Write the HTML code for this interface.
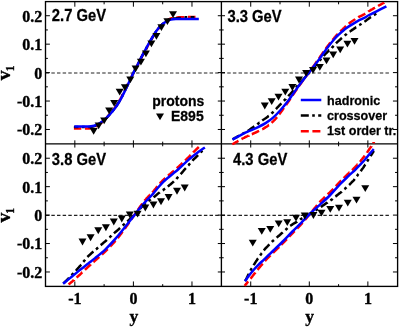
<!DOCTYPE html>
<html><head><meta charset="utf-8"><title>v1 vs y</title>
<style>html,body{margin:0;padding:0;background:#fff;}svg{display:block;will-change:transform;}text{font-family:"Liberation Sans",sans-serif;font-weight:bold;fill:#000;stroke:#000;stroke-width:0.25px;}.s{font-family:"Liberation Serif",serif;stroke:#000;stroke-width:0.35px;}</style></head><body>
<svg width="399" height="327" viewBox="0 0 399 327">
<rect width="399" height="327" fill="#fff"/>
<defs>
<clipPath id="c1"><rect x="45.5" y="1.6" width="175.9" height="142.3"/></clipPath>
<clipPath id="c2"><rect x="221.4" y="1.6" width="176.2" height="143.7"/></clipPath>
<clipPath id="c3"><rect x="45.5" y="143.9" width="175.9" height="142.5"/></clipPath>
<clipPath id="c4"><rect x="221.4" y="142.0" width="176.2" height="144.4"/></clipPath>
<path id="t" d="M-4 -2.9H4L0 3.9Z" fill="#000"/>
</defs>
<g stroke="#222" stroke-width="1.2" stroke-dasharray="3.45 2.2" fill="none">
<path d="M45.7 73.0H221.4"/>
<path d="M221.6 73.0H389.4"/>
<path d="M45.7 215.3H221.4"/>
<path d="M221.6 215.3H389.4"/>
</g>
<g stroke="#000" stroke-width="1.35" fill="none">
<rect x="45.5" y="1.6" width="352.1" height="284.8"/>
<path d="M221.4 1.6V286.4M45.5 143.9H397.6"/>
<path stroke-width="1.0" d="M74.83 1.60v5.10M74.83 140.35v7.20M74.83 286.45v-5.00M104.12 1.60v2.70M104.12 141.65v4.60M104.12 286.45v-2.30M133.40 1.60v5.10M133.40 140.35v7.20M133.40 286.45v-5.00M162.69 1.60v2.70M162.69 141.65v4.60M162.69 286.45v-2.30M191.97 1.60v5.10M191.97 140.35v7.20M191.97 286.45v-5.00M250.73 1.60v5.10M250.73 140.35v7.20M250.73 286.45v-5.00M280.01 1.60v2.70M280.01 141.65v4.60M280.01 286.45v-2.30M309.30 1.60v5.10M309.30 140.35v7.20M309.30 286.45v-5.00M338.59 1.60v2.70M338.59 141.65v4.60M338.59 286.45v-2.30M367.87 1.60v5.10M367.87 140.35v7.20M367.87 286.45v-5.00M45.50 129.48h4.40M217.80 129.48h7.20M397.55 129.48h-4.60M45.50 115.26h2.40M219.10 115.26h4.60M397.55 115.26h-2.50M45.50 101.04h4.40M217.80 101.04h7.20M397.55 101.04h-4.60M45.50 86.82h2.40M219.10 86.82h4.60M397.55 86.82h-2.50M45.50 72.60h4.40M217.80 72.60h7.20M397.55 72.60h-4.60M45.50 58.38h2.40M219.10 58.38h4.60M397.55 58.38h-2.50M45.50 44.16h4.40M217.80 44.16h7.20M397.55 44.16h-4.60M45.50 29.94h2.40M219.10 29.94h4.60M397.55 29.94h-2.50M45.50 15.72h4.40M217.80 15.72h7.20M397.55 15.72h-4.60M45.50 271.98h4.40M217.80 271.98h7.20M397.55 271.98h-4.60M45.50 257.76h2.40M219.10 257.76h4.60M397.55 257.76h-2.50M45.50 243.54h4.40M217.80 243.54h7.20M397.55 243.54h-4.60M45.50 229.32h2.40M219.10 229.32h4.60M397.55 229.32h-2.50M45.50 215.10h4.40M217.80 215.10h7.20M397.55 215.10h-4.60M45.50 200.88h2.40M219.10 200.88h4.60M397.55 200.88h-2.50M45.50 186.66h4.40M217.80 186.66h7.20M397.55 186.66h-4.60M45.50 172.44h2.40M219.10 172.44h4.60M397.55 172.44h-2.50M45.50 158.22h4.40M217.80 158.22h7.20M397.55 158.22h-4.60"/>
</g>
<g clip-path="url(#c1)" fill="none" stroke-width="2.5">
<path d="M73.9 128.5L74.1 128.5L74.4 128.5L74.8 128.5L75.2 128.5L75.6 128.5L76.1 128.5L76.5 128.5L76.9 128.5L77.2 128.5L77.6 128.5L78.0 128.5L78.3 128.5L78.7 128.5L79.1 128.5L79.5 128.5L79.8 128.5L80.2 128.5L80.6 128.5L80.9 128.5L81.3 128.5L81.3 128.5M84.9 128.5L85.1 128.5L85.5 128.5L85.9 128.5L86.3 128.5L86.6 128.5L87.0 128.5L87.4 128.5L87.7 128.5L88.1 128.5L88.5 128.5L88.9 128.5L89.2 128.4L89.6 128.4L90.0 128.3L90.3 128.3L90.7 128.2L91.1 128.2L91.4 128.1L91.8 128.0L92.2 127.9L92.6 127.8L92.8 127.7M96.1 126.4L96.4 126.3L96.8 126.1L97.1 125.9L97.5 125.7L97.9 125.4L98.2 125.2L98.6 124.9L99.0 124.7L99.4 124.4L99.7 124.1L100.1 123.8L100.5 123.5L100.8 123.2L101.2 122.9L101.6 122.6L102.0 122.3L102.3 122.0L102.6 121.7M105.2 119.3L105.4 119.0L105.8 118.6L106.2 118.2L106.5 117.8L106.9 117.4L107.3 116.9L107.6 116.5L108.0 116.1L108.4 115.6L108.7 115.2L109.1 114.7L109.5 114.3L109.9 113.8L110.2 113.4L110.4 113.2M112.7 110.5L113.0 110.2L113.3 109.7L113.7 109.3L114.1 108.8L114.4 108.3L114.8 107.9L115.2 107.4L115.5 106.8L115.9 106.3L116.3 105.8L116.7 105.2L117.0 104.7L117.4 104.1L117.5 104.0M119.3 101.0L119.6 100.4L120.0 99.8L120.4 99.1L120.7 98.4L121.1 97.8L121.5 97.1L121.8 96.4L122.2 95.6L122.6 94.9L123.0 94.2L123.1 93.9M124.7 90.8L124.9 90.2L125.3 89.5L125.7 88.7L126.0 87.9L126.4 87.2L126.8 86.4L127.2 85.7L127.5 84.9L127.9 84.2L128.2 83.6M129.7 80.4L130.0 79.8L130.4 79.1L130.7 78.3L131.1 77.6L131.5 76.8L131.9 76.1L132.2 75.3L132.6 74.6L133.0 73.9L133.3 73.2M134.9 70.0L135.3 69.3L135.7 68.6L136.1 67.9L136.4 67.2L136.8 66.5L137.2 65.8L137.5 65.1L137.9 64.3L138.3 63.6L138.7 62.9L138.7 62.9M140.3 59.8L140.6 59.0L141.0 58.3L141.4 57.6L141.7 56.9L142.1 56.2L142.5 55.5L142.9 54.8L143.2 54.1L143.6 53.5L144.0 52.8L144.1 52.7M145.8 49.6L146.1 49.1L146.4 48.4L146.8 47.7L147.2 47.0L147.6 46.3L147.9 45.7L148.3 45.0L148.7 44.3L149.0 43.6L149.4 43.0L149.6 42.5M151.4 39.5L151.6 39.0L152.0 38.4L152.4 37.7L152.7 37.1L153.1 36.5L153.5 35.9L153.9 35.2L154.2 34.6L154.6 34.1L155.0 33.5L155.3 32.9L155.5 32.6M157.6 29.7L157.8 29.4L158.2 28.9L158.6 28.5L158.9 28.0L159.3 27.6L159.7 27.2L160.0 26.8L160.4 26.4L160.8 26.0L161.1 25.6L161.5 25.2L161.9 24.8L162.3 24.4L162.6 24.1L163.0 23.8M165.6 21.5L166.0 21.2L166.3 20.9L166.7 20.7L167.1 20.4L167.4 20.2L167.8 19.9L168.2 19.7L168.6 19.5L168.9 19.3L169.3 19.1L169.7 18.9L170.0 18.8L170.4 18.6L170.8 18.5L171.2 18.4L171.5 18.3L171.9 18.2L172.3 18.1L172.6 18.0L172.8 18.0M176.3 17.5L176.6 17.5L177.0 17.4L177.3 17.4L177.7 17.4L178.1 17.3L178.4 17.3L178.8 17.3L179.2 17.3L179.6 17.3L179.9 17.3L180.3 17.3L180.7 17.3L181.0 17.2L181.4 17.2L181.8 17.2L182.2 17.2L182.5 17.2L182.9 17.2L183.3 17.2L183.6 17.2L184.0 17.2L184.3 17.2M187.9 17.1L188.2 17.1L188.6 17.1L189.0 17.1L189.3 17.1L189.7 17.1L190.1 17.1L190.4 17.1L190.8 17.1L191.2 17.1L191.5 17.1L191.9 17.1L192.3 17.1L192.7 17.1L193.1 17.1L193.5 17.1L193.9 17.1L194.3 17.1L194.7 17.1L195.1 17.1L195.4 17.1L195.5 17.1" stroke="#f00"/>
<path d="M73.9 127.0L74.1 127.0L74.4 127.0L74.8 127.0L75.2 127.0L75.6 127.0L76.1 127.0L76.5 127.0L76.9 127.0L77.3 127.0L77.7 127.0L78.0 127.0L78.4 127.0M81.9 127.0L82.2 127.0L82.6 127.0L82.9 127.0L83.3 127.0L83.7 127.0L84.1 127.0L84.4 127.0L84.7 127.0M88.2 127.0L88.4 127.0L88.8 127.0L89.2 127.0L89.6 126.9L90.0 126.9L90.3 126.9L90.7 126.8L91.1 126.8L91.5 126.7L91.8 126.7L92.2 126.6L92.6 126.5L93.0 126.4L93.3 126.4L93.7 126.3L94.1 126.2L94.5 126.1L94.8 126.0L95.2 125.8L95.6 125.7L96.0 125.5L96.1 125.5M99.2 123.9L99.5 123.7L99.9 123.5L100.2 123.2L100.6 123.0L101.0 122.7L101.4 122.4L101.5 122.3M104.2 120.1L104.5 119.8L104.9 119.5L105.3 119.1L105.6 118.7L106.0 118.4L106.4 118.0L106.8 117.6L107.1 117.2L107.5 116.8L107.9 116.4L108.3 115.9L108.6 115.5L109.0 115.1L109.4 114.6L109.7 114.3M112.0 111.6L112.3 111.3L112.7 110.9L113.0 110.4L113.4 109.9L113.8 109.5L113.8 109.5M115.9 106.7L116.2 106.3L116.5 105.8L116.9 105.2L117.3 104.6L117.7 104.0L118.0 103.4L118.4 102.8L118.8 102.2L119.2 101.6L119.6 100.9L119.9 100.3L120.2 99.8M121.8 96.8L122.2 96.1L122.6 95.4L122.9 94.6L123.1 94.3M124.7 91.1L124.9 90.6L125.3 89.8L125.7 89.0L126.1 88.2L126.4 87.4L126.8 86.6L127.2 85.9L127.6 85.1L128.0 84.3L128.1 83.9M129.6 80.7L130.0 80.1L130.3 79.3L130.7 78.5L130.9 78.2M132.4 75.1L132.7 74.4L133.1 73.6L133.5 72.9L133.8 72.1L134.2 71.4L134.6 70.6L135.0 69.9L135.4 69.2L135.7 68.5L136.0 67.9M137.6 64.8L138.0 64.1L138.4 63.3L138.7 62.6L138.9 62.3M140.5 59.1L140.7 58.6L141.1 57.9L141.5 57.2L141.9 56.4L142.3 55.7L142.6 55.0L143.0 54.3L143.4 53.6L143.8 52.9L144.1 52.2L144.2 52.0M146.0 49.0L146.3 48.4L146.6 47.7L147.0 47.0L147.3 46.5M149.0 43.4L149.3 42.9L149.7 42.2L150.0 41.6L150.4 40.9L150.8 40.2L151.2 39.6L151.5 38.9L151.9 38.3L152.3 37.7L152.7 37.0L153.0 36.5M154.8 33.5L155.2 32.9L155.5 32.3L155.9 31.8L156.3 31.2L156.4 31.1M158.5 28.3L158.8 27.9L159.2 27.5L159.6 27.1L159.9 26.6L160.3 26.2L160.7 25.9L161.1 25.5L161.4 25.1L161.8 24.8L162.2 24.4L162.6 24.1L162.9 23.8L163.3 23.4L163.7 23.1L164.1 22.8L164.2 22.7M167.1 20.7L167.3 20.5L167.7 20.3L168.1 20.1L168.5 19.9L168.8 19.7L169.2 19.5L169.5 19.4M172.9 18.6L173.2 18.6L173.6 18.5L174.0 18.5L174.4 18.5L174.7 18.4L175.1 18.4L175.5 18.4L175.9 18.4L176.2 18.3L176.6 18.3L177.0 18.3L177.4 18.3L177.7 18.2L178.1 18.2L178.5 18.2L178.9 18.1L179.2 18.1L179.6 18.0L180.0 18.0L180.4 18.0L180.8 17.9L180.9 17.9M184.4 17.4L184.8 17.4L185.1 17.4L185.5 17.3L185.9 17.3L186.3 17.3L186.6 17.3L187.0 17.3L187.2 17.3M190.7 17.3L191.0 17.3L191.4 17.3L191.8 17.3L192.3 17.3L192.7 17.3L193.1 17.3L193.5 17.3L193.9 17.3L194.2 17.2L194.3 17.2" stroke="#000"/>
<path d="M74.30 126.50 C75.92 126.50 81.22 126.53 84.00 126.50 C86.78 126.47 88.87 126.58 91.00 126.30 C93.13 126.02 94.75 125.73 96.80 124.80 C98.85 123.87 101.22 122.33 103.30 120.70 C105.38 119.07 107.20 117.28 109.30 115.00 C111.40 112.72 113.97 109.70 115.90 107.00 C117.83 104.30 119.28 101.72 120.90 98.80 C122.52 95.88 124.12 92.55 125.60 89.50 C127.08 86.45 128.44 83.37 129.80 80.50 C131.16 77.63 132.38 75.05 133.75 72.30 C135.12 69.55 136.62 66.72 138.00 64.00 C139.38 61.28 140.67 58.55 142.00 56.00 C143.33 53.45 144.50 51.42 146.00 48.70 C147.50 45.98 149.33 42.57 151.00 39.70 C152.67 36.83 154.50 33.70 156.00 31.50 C157.50 29.30 158.75 27.85 160.00 26.50 C161.25 25.15 162.33 24.32 163.50 23.40 C164.67 22.48 165.75 21.67 167.00 21.00 C168.25 20.33 169.33 19.73 171.00 19.40 C172.67 19.07 174.67 19.07 177.00 19.00 C179.33 18.93 181.37 18.96 185.00 18.95 C188.63 18.94 196.50 18.95 198.80 18.95" stroke="#00f"/>
</g>
<g>
<use href="#t" x="93.65" y="130.90"/>
<use href="#t" x="98.65" y="125.40"/>
<use href="#t" x="104.15" y="120.40"/>
<use href="#t" x="109.15" y="110.40"/>
<use href="#t" x="114.15" y="102.90"/>
<use href="#t" x="119.65" y="91.65"/>
<use href="#t" x="124.90" y="87.15"/>
<use href="#t" x="130.30" y="79.40"/>
<use href="#t" x="135.60" y="68.40"/>
<use href="#t" x="140.90" y="61.65"/>
<use href="#t" x="145.90" y="53.40"/>
<use href="#t" x="151.40" y="43.40"/>
<use href="#t" x="156.40" y="35.90"/>
<use href="#t" x="161.40" y="27.15"/>
<use href="#t" x="167.40" y="21.20"/>
<use href="#t" x="173.00" y="14.10"/>
</g>
<g clip-path="url(#c2)" fill="none" stroke-width="2.5">
<path d="M232.3 144.3L232.5 144.2L232.8 144.0L233.2 143.8L233.6 143.6L234.0 143.3L234.5 143.1L234.9 142.8L235.3 142.6L235.7 142.4L236.0 142.2L236.4 142.0L236.8 141.8L237.1 141.6L237.5 141.4L237.9 141.2L238.3 140.9L238.5 140.8M241.5 139.1L241.9 138.9L242.2 138.7L242.6 138.5L243.0 138.3L243.3 138.2L243.7 138.0L244.1 137.8L244.5 137.6L244.8 137.4L245.2 137.2L245.6 137.0L246.0 136.9L246.3 136.7L246.7 136.5L247.1 136.3L247.4 136.2L247.8 136.0L248.2 135.8L248.6 135.7L248.6 135.6M251.8 134.2L252.2 134.1L252.5 133.9L252.9 133.7L253.3 133.6L253.6 133.4L254.0 133.2L254.4 133.1L254.8 132.9L255.1 132.8L255.5 132.6L255.9 132.4L256.3 132.2L256.6 132.1L257.0 131.9L257.4 131.7L257.7 131.5L258.1 131.4L258.5 131.2L258.9 131.0L259.1 130.9M262.2 129.3L262.5 129.2L262.8 129.0L263.2 128.8L263.6 128.6L263.9 128.4L264.3 128.1L264.7 127.9L265.1 127.7L265.4 127.4L265.8 127.2L266.2 127.0L266.6 126.7L266.9 126.5L267.3 126.2L267.7 126.0L268.0 125.7L268.4 125.4L268.8 125.1L268.9 125.1M271.6 122.8L271.9 122.5L272.3 122.2L272.6 121.8L273.0 121.5L273.4 121.1L273.7 120.7L274.1 120.3L274.5 120.0L274.9 119.6L275.2 119.2L275.6 118.8L276.0 118.3L276.4 117.9L276.7 117.5L277.1 117.1M279.2 114.3L279.6 113.9L280.0 113.4L280.3 112.9L280.7 112.4L281.1 111.9L281.4 111.4L281.8 110.9L282.2 110.4L282.6 109.9L282.9 109.3L283.3 108.8L283.7 108.3L284.0 107.9M286.0 105.1L286.3 104.6L286.7 104.1L287.0 103.6L287.4 103.0L287.8 102.5L288.1 101.9L288.5 101.4L288.9 100.9L289.3 100.3L289.6 99.8L290.0 99.2L290.4 98.6L290.5 98.5M292.4 95.6L292.7 95.1L293.1 94.6L293.5 94.0L293.9 93.5L294.2 93.0L294.6 92.4L295.0 91.9L295.3 91.3L295.7 90.8L296.1 90.2L296.5 89.7L296.8 89.2L296.9 89.0M298.9 86.2L299.2 85.8L299.6 85.2L299.9 84.7L300.3 84.2L300.7 83.7L301.1 83.1L301.4 82.6L301.8 82.1L302.2 81.6L302.5 81.1L302.9 80.6L303.3 80.0L303.5 79.7M305.6 76.9L305.9 76.5L306.3 76.0L306.6 75.5L307.0 75.0L307.4 74.4L307.8 73.9L308.1 73.4L308.5 72.9L308.9 72.4L309.2 71.9L309.6 71.4L310.0 70.9L310.3 70.5M312.4 67.6L312.7 67.2L313.1 66.7L313.5 66.2L313.8 65.7L314.2 65.2L314.6 64.7L315.0 64.1L315.3 63.6L315.7 63.1L316.1 62.6L316.4 62.1L316.8 61.5L317.0 61.2M319.0 58.3L319.3 58.0L319.7 57.4L320.0 56.9L320.4 56.4L320.8 55.8L321.2 55.3L321.5 54.8L321.9 54.2L322.3 53.7L322.6 53.1L323.0 52.6L323.4 52.1L323.6 51.8M325.6 48.9L325.9 48.5L326.2 48.0L326.6 47.5L327.0 47.0L327.4 46.5L327.7 46.0L328.1 45.5L328.5 45.0L328.9 44.5L329.2 44.1L329.6 43.6L330.0 43.1L330.3 42.7L330.4 42.6M332.6 39.9L332.9 39.5L333.3 39.0L333.7 38.6L334.1 38.1L334.4 37.7L334.8 37.2L335.2 36.8L335.6 36.3L335.9 35.9L336.3 35.5L336.7 35.1L337.0 34.7L337.4 34.3L337.8 33.9L337.8 33.9M340.3 31.4L340.6 31.1L341.0 30.8L341.4 30.4L341.8 30.1L342.1 29.8L342.5 29.4L342.9 29.1L343.2 28.7L343.6 28.3L344.0 28.0L344.4 27.6L344.7 27.3L345.1 26.9L345.5 26.6L345.9 26.2L346.1 26.0M348.7 23.7L349.1 23.4L349.5 23.1L349.8 22.8L350.2 22.6L350.6 22.3L350.9 22.0L351.3 21.8L351.7 21.5L352.1 21.3L352.4 21.0L352.8 20.8L353.2 20.5L353.5 20.3L353.9 20.0L354.3 19.8L354.7 19.5L355.0 19.3L355.2 19.1M358.2 17.3L358.5 17.1L358.9 16.9L359.3 16.7L359.6 16.6L360.0 16.4L360.4 16.2L360.7 16.0L361.1 15.8L361.5 15.6L361.9 15.5L362.2 15.3L362.6 15.1L363.0 14.9L363.4 14.7L363.7 14.5L364.1 14.3L364.5 14.1L364.8 13.9L365.2 13.6L365.2 13.6M368.2 11.7L368.4 11.5L368.8 11.3L369.2 11.0L369.6 10.8L369.9 10.6L370.3 10.3L370.7 10.1L371.0 9.9L371.4 9.7L371.8 9.5L372.2 9.3L372.5 9.1L372.9 8.9L373.3 8.6L373.7 8.4L374.0 8.2L374.4 8.0L374.8 7.8L375.0 7.7M378.1 6.0L378.4 5.8L378.7 5.6L379.1 5.4L379.5 5.2L379.9 5.0L380.2 4.8L380.6 4.6L381.0 4.4L381.3 4.2L381.8 4.0L382.2 3.7L382.6 3.5L383.0 3.3L383.4 3.0L383.8 2.9L384.1 2.7L384.2 2.6" stroke="#f00"/>
<path d="M232.5 139.4L232.7 139.3L233.0 139.1L233.4 138.9L233.8 138.7L234.3 138.4L234.7 138.2L235.1 137.9L235.5 137.7L235.9 137.5L236.3 137.3L236.7 137.1L237.0 136.9L237.4 136.6L237.8 136.4L238.2 136.2L238.6 136.0L238.9 135.8L239.2 135.7M242.2 134.0L242.6 133.8L243.0 133.6L243.4 133.4L243.7 133.2L244.1 133.0L244.5 132.8L244.7 132.7M247.8 131.0L248.0 130.8L248.4 130.6L248.8 130.3L249.2 130.0L249.6 129.8L249.9 129.5L250.3 129.2L250.7 128.9L251.1 128.7L251.4 128.4L251.8 128.1L252.2 127.9L252.6 127.6L253.0 127.4L253.3 127.1L253.7 126.9L254.1 126.6L254.4 126.4M257.3 124.4L257.5 124.2L257.9 123.9L258.3 123.6L258.6 123.3L259.0 123.0L259.4 122.7L259.5 122.7M262.2 120.5L262.6 120.2L262.9 120.0L263.3 119.7L263.7 119.5L264.1 119.2L264.5 119.0L264.8 118.8L265.2 118.5L265.6 118.3L266.0 118.0L266.3 117.7L266.7 117.5L267.1 117.2L267.5 116.9L267.9 116.6L268.2 116.3L268.6 116.0L268.8 115.9M271.5 113.6L271.8 113.3L272.2 113.0L272.5 112.6L272.9 112.2L273.3 111.9L273.5 111.7M275.9 109.1L276.2 108.8L276.6 108.4L277.0 108.0L277.3 107.6L277.7 107.2L278.1 106.8L278.5 106.4L278.9 106.0L279.2 105.6L279.6 105.2L280.0 104.8L280.4 104.4L280.7 104.0L281.1 103.6L281.4 103.3M283.9 100.8L284.2 100.5L284.5 100.1L284.9 99.8L285.3 99.4L285.7 99.0L285.8 98.8M288.3 96.3L288.6 95.9L289.0 95.5L289.3 95.1L289.7 94.7L290.1 94.3L290.5 93.8L290.9 93.4L291.2 93.0L291.6 92.6L292.0 92.1L292.4 91.7L292.7 91.2L293.1 90.8L293.5 90.4L293.6 90.3M295.9 87.6L296.3 87.2L296.7 86.8L297.0 86.3L297.4 85.9L297.8 85.5M300.1 82.9L300.5 82.5L300.8 82.1L301.2 81.7L301.6 81.3L302.0 80.9L302.3 80.4L302.7 80.0L303.1 79.6L303.5 79.2L303.9 78.7L304.2 78.3L304.6 77.9L305.0 77.5L305.4 77.0L305.5 76.9M307.8 74.3L308.2 73.9L308.5 73.4L308.9 73.0L309.3 72.6L309.6 72.2M312.0 69.6L312.3 69.2L312.7 68.7L313.1 68.3L313.5 67.9L313.8 67.5L314.2 67.0L314.6 66.6L315.0 66.2L315.4 65.7L315.7 65.3L316.1 64.9L316.5 64.4L316.9 64.0L317.2 63.5M319.5 60.8L319.8 60.4L320.2 60.0L320.5 59.5L320.9 59.1L321.3 58.7M323.6 56.0L323.8 55.7L324.2 55.3L324.6 54.9L325.0 54.5L325.3 54.1L325.7 53.7L326.1 53.3L326.5 53.0L326.8 52.6L327.2 52.2L327.6 51.8L328.0 51.4L328.4 51.1L328.7 50.7L329.1 50.3L329.2 50.3M331.7 47.9L332.0 47.5L332.4 47.2L332.8 46.8L333.2 46.4L333.5 46.0L333.7 45.8M336.0 43.3L336.3 43.0L336.7 42.6L337.1 42.3L337.5 41.9L337.8 41.6L338.2 41.2L338.6 40.9L339.0 40.5L339.4 40.2L339.7 39.9L340.1 39.5L340.5 39.2L340.9 38.9L341.2 38.5L341.6 38.2L342.0 37.9L342.0 37.9M344.7 35.6L345.0 35.3L345.4 35.0L345.8 34.6L346.2 34.3L346.6 34.0L346.8 33.8M349.6 31.7L350.0 31.5L350.3 31.2L350.7 31.0L351.1 30.7L351.5 30.4L351.9 30.2L352.2 29.9L352.6 29.7L353.0 29.4L353.4 29.1L353.8 28.9L354.1 28.6L354.5 28.4L354.9 28.1L355.3 27.9L355.6 27.6L356.0 27.3L356.3 27.2M359.2 25.2L359.6 25.0L359.9 24.7L360.3 24.5L360.7 24.2L361.1 24.0L361.5 23.7L361.5 23.7M364.4 21.7L364.7 21.5L365.1 21.2L365.5 21.0L365.9 20.7L366.3 20.4L366.6 20.1L367.0 19.8L367.4 19.5L367.8 19.2L368.1 19.0L368.5 18.7L368.9 18.4L369.3 18.1L369.7 17.9L370.0 17.6L370.4 17.4L370.8 17.1L371.0 17.0M373.9 15.1L374.2 14.9L374.6 14.7L375.0 14.4L375.4 14.1L375.8 13.9L376.2 13.6" stroke="#000"/>
<path d="M232.50 139.60 C234.25 138.65 240.07 135.40 243.00 133.90 C245.93 132.40 247.60 131.73 250.10 130.60 C252.60 129.47 255.42 128.35 258.00 127.10 C260.58 125.85 263.08 124.68 265.60 123.10 C268.12 121.52 270.60 119.78 273.10 117.60 C275.60 115.42 278.22 112.63 280.60 110.00 C282.98 107.37 285.40 104.37 287.40 101.80 C289.40 99.23 290.48 97.57 292.60 94.60 C294.72 91.63 297.60 87.38 300.10 84.00 C302.60 80.62 304.95 77.70 307.60 74.30 C310.25 70.90 313.68 66.65 316.00 63.60 C318.32 60.55 319.57 58.70 321.50 56.00 C323.43 53.30 325.33 50.37 327.60 47.40 C329.87 44.43 333.20 40.38 335.10 38.20 C337.00 36.02 337.75 35.47 339.00 34.30 C340.25 33.13 341.35 32.23 342.60 31.20 C343.85 30.17 345.25 29.03 346.50 28.10 C347.75 27.17 348.25 26.77 350.10 25.60 C351.95 24.43 355.22 22.40 357.60 21.10 C359.98 19.80 362.48 18.82 364.40 17.80 C366.32 16.78 367.07 16.08 369.10 15.00 C371.13 13.92 373.72 12.75 376.60 11.30 C379.48 9.85 384.77 7.13 386.40 6.30" stroke="#00f"/>
</g>
<g>
<use href="#t" x="264.80" y="105.50"/>
<use href="#t" x="271.70" y="101.20"/>
<use href="#t" x="278.50" y="96.60"/>
<use href="#t" x="285.30" y="91.60"/>
<use href="#t" x="292.40" y="87.00"/>
<use href="#t" x="299.00" y="79.50"/>
<use href="#t" x="306.10" y="72.80"/>
<use href="#t" x="313.00" y="69.80"/>
<use href="#t" x="319.80" y="66.80"/>
<use href="#t" x="326.50" y="60.40"/>
<use href="#t" x="333.20" y="54.40"/>
<use href="#t" x="340.20" y="49.30"/>
<use href="#t" x="347.40" y="43.60"/>
<use href="#t" x="354.50" y="40.90"/>
</g>
<g clip-path="url(#c3)" fill="none" stroke-width="2.5">
<path d="M68.6 284.5L68.8 284.3L69.1 284.0L69.5 283.7L69.9 283.4L70.4 283.1L70.8 282.7L71.2 282.3L71.6 282.0L72.0 281.7L72.4 281.3L72.8 281.0L73.1 280.7L73.5 280.3L73.9 280.0L73.9 279.9M76.6 277.6L76.9 277.3L77.3 276.9L77.7 276.6L78.1 276.3L78.4 275.9L78.8 275.6L79.2 275.3L79.6 274.9L80.0 274.6L80.3 274.2L80.7 273.9L81.1 273.5L81.5 273.2L81.8 272.8L82.2 272.4L82.4 272.3M85.0 269.8L85.3 269.5L85.6 269.2L86.0 268.8L86.4 268.5L86.8 268.1L87.1 267.8L87.5 267.4L87.9 267.1L88.3 266.7L88.7 266.4L89.0 266.0L89.4 265.7L89.8 265.3L90.2 265.0L90.6 264.7L90.8 264.4M93.4 262.1L93.7 261.9L94.1 261.5L94.5 261.2L94.8 260.8L95.2 260.5L95.6 260.1L96.0 259.8L96.4 259.5L96.7 259.1L97.1 258.8L97.5 258.5L97.9 258.1L98.2 257.8L98.6 257.5L99.0 257.2L99.4 256.9M102.0 254.5L102.3 254.3L102.7 253.9L103.0 253.6L103.4 253.2L103.8 252.9L104.2 252.5L104.6 252.2L104.9 251.8L105.3 251.4L105.7 251.1L106.1 250.7L106.4 250.3L106.8 250.0L107.2 249.6L107.6 249.2L107.7 249.1M110.2 246.5L110.5 246.2L110.9 245.8L111.2 245.4L111.6 245.0L112.0 244.6L112.4 244.2L112.8 243.8L113.1 243.4L113.5 242.9L113.9 242.5L114.3 242.1L114.6 241.7L115.0 241.3L115.4 240.8L115.6 240.7M117.8 238.0L118.1 237.7L118.4 237.2L118.8 236.7L119.2 236.2L119.6 235.7L119.9 235.2L120.3 234.7L120.7 234.2L121.1 233.7L121.5 233.2L121.8 232.6L122.2 232.1L122.6 231.6M124.7 228.8L125.0 228.4L125.4 227.9L125.8 227.4L126.1 226.9L126.5 226.3L126.9 225.8L127.3 225.3L127.6 224.7L128.0 224.2L128.4 223.6L128.8 223.1L129.2 222.5L129.3 222.4M131.3 219.5L131.6 219.1L131.9 218.5L132.3 218.0L132.7 217.4L133.1 216.9L133.4 216.3L133.8 215.8L134.2 215.2L134.6 214.7L135.0 214.1L135.3 213.6L135.7 213.0L135.8 212.9M137.8 210.0L138.1 209.5L138.5 209.0L138.9 208.4L139.3 207.9L139.6 207.4L140.0 206.8L140.4 206.3L140.8 205.8L141.1 205.3L141.5 204.8L141.9 204.3L142.3 203.8L142.4 203.6M144.6 200.8L144.9 200.4L145.3 200.0L145.7 199.5L146.1 199.1L146.4 198.6L146.8 198.2L147.2 197.8L147.6 197.4L148.0 197.0L148.3 196.6L148.7 196.2L149.1 195.8L149.5 195.4L149.8 195.0L149.9 195.0M152.3 192.4L152.6 192.1L153.0 191.7L153.4 191.3L153.8 190.8L154.1 190.4L154.5 189.9L154.9 189.5L155.3 189.0L155.7 188.5L156.0 188.1L156.4 187.6L156.8 187.2L157.2 186.7L157.5 186.4M159.7 183.7L160.1 183.3L160.4 182.9L160.8 182.5L161.2 182.1L161.6 181.7L162.0 181.3L162.3 180.9L162.7 180.5L163.1 180.1L163.5 179.7L163.9 179.4L164.2 179.0L164.6 178.7L165.0 178.3L165.3 178.0M167.9 175.7L168.3 175.5L168.6 175.1L169.0 174.8L169.4 174.5L169.8 174.2L170.2 173.9L170.5 173.6L170.9 173.3L171.3 173.0L171.7 172.6L172.1 172.3L172.4 172.0L172.8 171.7L173.2 171.4L173.6 171.0L173.9 170.7L174.0 170.6M176.7 168.3L177.0 168.1L177.4 167.7L177.7 167.4L178.1 167.1L178.5 166.7L178.9 166.4L179.2 166.0L179.6 165.6L180.0 165.3L180.4 164.9L180.8 164.6L181.1 164.2L181.5 163.9L181.9 163.5L182.3 163.1L182.5 162.9M185.1 160.5L185.4 160.2L185.8 159.9L186.2 159.5L186.6 159.2L186.9 158.8L187.3 158.4L187.7 158.1L188.1 157.7L188.5 157.3L188.8 156.9L189.2 156.5L189.6 156.2L190.0 155.8L190.3 155.4L190.7 155.0L190.7 155.0M193.2 152.5L193.5 152.1L193.9 151.7L194.3 151.4L194.6 151.0L195.0 150.6L195.4 150.2L195.8 149.9L196.2 149.5L196.6 149.1L197.0 148.7L197.5 148.3L197.9 147.9L198.3 147.5L198.6 147.2L198.8 147.0" stroke="#f00"/>
<path d="M63.4 283.4L63.6 283.2L64.0 282.8L64.4 282.5L64.9 282.1L65.3 281.6L65.7 281.2L66.1 280.9L66.5 280.5L66.9 280.1L67.3 279.7L67.6 279.3L68.0 279.0L68.4 278.6L68.8 278.2L69.1 277.8M71.5 275.2L71.8 274.9L72.2 274.5L72.6 274.1L72.9 273.7L73.3 273.4L73.5 273.2M75.9 270.7L76.2 270.3L76.6 269.9L77.0 269.4L77.3 269.0L77.7 268.6L78.1 268.2L78.5 267.7L78.9 267.3L79.2 266.9L79.6 266.5L80.0 266.0L80.4 265.6L80.8 265.1L81.1 264.7L81.2 264.6M83.3 261.9L83.7 261.5L84.0 261.0L84.4 260.5L84.8 260.1L85.1 259.7M87.4 257.0L87.7 256.7L88.1 256.3L88.4 256.0L88.8 255.6L89.2 255.3L89.6 254.9L90.0 254.6L90.3 254.3L90.7 253.9L91.1 253.6L91.5 253.2L91.8 252.9L92.2 252.6L92.6 252.3L93.0 251.9L93.4 251.6M96.0 249.4L96.4 249.1L96.8 248.8L97.1 248.4L97.5 248.1L97.9 247.7L98.1 247.5M100.7 245.2L101.1 244.9L101.4 244.5L101.8 244.2L102.2 243.9L102.6 243.6L102.9 243.3L103.3 242.9L103.7 242.6L104.1 242.3L104.5 242.0L104.8 241.7L105.2 241.4L105.6 241.0L106.0 240.7L106.3 240.4L106.7 240.0L106.8 239.9M109.4 237.5L109.8 237.2L110.1 236.8L110.5 236.5L110.9 236.1L111.3 235.8L111.4 235.6M114.0 233.3L114.3 233.0L114.7 232.7L115.0 232.3L115.4 232.0L115.8 231.7L116.2 231.4L116.6 231.1L116.9 230.8L117.3 230.5L117.7 230.1L118.1 229.8L118.5 229.5L118.8 229.1L119.2 228.8L119.6 228.4L120.0 228.1L120.1 228.0M122.6 225.6L123.0 225.3L123.4 224.9L123.7 224.6L124.1 224.2L124.5 223.9L124.7 223.7M127.3 221.4L127.7 221.1L128.0 220.8L128.4 220.5L128.8 220.1L129.2 219.8L129.5 219.5L129.9 219.1L130.3 218.8L130.7 218.4L131.1 218.1L131.4 217.7L131.8 217.4L132.2 217.0L132.6 216.7L133.0 216.3L133.3 216.0M135.7 213.5L136.0 213.2L136.4 212.7L136.7 212.3L137.1 211.9L137.5 211.5L137.6 211.4M139.9 208.8L140.3 208.4L140.6 208.0L141.0 207.6L141.4 207.2L141.8 206.8L142.2 206.5L142.5 206.1L142.9 205.7L143.3 205.4L143.7 205.0L144.0 204.6L144.4 204.3L144.8 204.0L145.2 203.6L145.6 203.3L145.7 203.2M148.4 201.0L148.7 200.8L149.1 200.5L149.5 200.3L149.8 200.0L150.2 199.8L150.6 199.5L150.7 199.4M153.6 197.4L153.9 197.1L154.3 196.8L154.6 196.5L155.0 196.2L155.4 195.8L155.8 195.5L156.2 195.2L156.5 194.9L156.9 194.5L157.3 194.2L157.7 193.9L158.0 193.6L158.4 193.3L158.8 193.0L159.2 192.7L159.6 192.5L159.8 192.3M162.7 190.3L163.1 190.1L163.5 189.8L163.8 189.5L164.2 189.2L164.6 188.9L165.0 188.6M167.7 186.5L168.0 186.3L168.4 186.0L168.8 185.7L169.1 185.4L169.5 185.1L169.9 184.8L170.3 184.5L170.7 184.2L171.0 183.9L171.4 183.6L171.8 183.3L172.2 182.9L172.5 182.6L172.9 182.3L173.3 181.9L173.7 181.6L173.9 181.4M176.4 178.9L176.7 178.5L177.1 178.1L177.5 177.7L177.8 177.3L178.2 176.9L178.3 176.8M180.6 174.2L180.9 173.9L181.2 173.5L181.6 173.0L182.0 172.6L182.4 172.1L182.8 171.7L183.1 171.2L183.5 170.8L183.9 170.3L184.3 169.9L184.6 169.5L185.0 169.0L185.4 168.6L185.8 168.2L185.9 168.1M188.2 165.5L188.6 165.1L188.9 164.7L189.3 164.2L189.7 163.8L190.1 163.4M192.4 160.8L192.7 160.4L193.1 159.9L193.5 159.6L193.9 159.2L194.2 158.8L194.6 158.5L195.0 158.1L195.4 157.8L195.7 157.5L196.1 157.1L196.5 156.7L196.9 156.4L197.3 156.0L197.6 155.6L198.0 155.3L198.1 155.2M200.5 152.6L200.8 152.2L201.3 151.8L201.6 151.3L202.0 150.9L202.2 150.6L202.3 150.6" stroke="#000"/>
<path d="M63.10 283.65 C64.25 282.73 67.48 280.20 70.00 278.15 C72.52 276.10 75.15 273.80 78.20 271.35 C81.25 268.90 85.48 265.65 88.30 263.45 C91.12 261.25 92.28 260.47 95.10 258.15 C97.92 255.83 101.83 252.75 105.20 249.55 C108.57 246.35 112.18 242.47 115.30 238.95 C118.42 235.43 121.42 231.52 123.90 228.45 C126.38 225.38 128.30 222.95 130.20 220.55 C132.10 218.15 133.62 216.20 135.30 214.05 C136.98 211.90 138.48 209.85 140.30 207.65 C142.12 205.45 144.05 203.20 146.20 200.85 C148.35 198.50 151.20 195.77 153.20 193.55 C155.20 191.33 156.52 189.48 158.20 187.55 C159.88 185.62 161.62 183.63 163.30 181.95 C164.98 180.27 166.62 178.88 168.30 177.45 C169.98 176.02 171.77 174.68 173.40 173.35 C175.03 172.02 175.63 171.66 178.10 169.45 C180.57 167.24 184.83 162.99 188.20 160.10 C191.57 157.21 195.52 154.20 198.30 152.10 C201.08 150.00 203.80 148.27 204.90 147.50" stroke="#00f"/>
</g>
<g>
<use href="#t" x="82.50" y="241.50"/>
<use href="#t" x="90.60" y="237.25"/>
<use href="#t" x="98.25" y="230.25"/>
<use href="#t" x="105.90" y="227.25"/>
<use href="#t" x="113.80" y="221.50"/>
<use href="#t" x="121.80" y="218.50"/>
<use href="#t" x="129.80" y="214.40"/>
<use href="#t" x="137.60" y="213.60"/>
<use href="#t" x="145.30" y="207.50"/>
<use href="#t" x="153.40" y="204.50"/>
<use href="#t" x="161.00" y="201.25"/>
<use href="#t" x="168.60" y="197.00"/>
<use href="#t" x="177.00" y="190.75"/>
<use href="#t" x="184.70" y="187.50"/>
</g>
<g clip-path="url(#c4)" fill="none" stroke-width="2.5">
<path d="M244.6 285.9L244.8 285.7L245.0 285.5L245.2 285.2L245.5 284.8L245.8 284.5L246.1 284.1L246.3 283.8L246.6 283.5L246.9 283.2L247.1 282.9L247.3 282.6L247.6 282.3L247.8 282.0L248.1 281.7L248.3 281.5M250.4 278.7L250.7 278.4L250.9 278.1L251.2 277.8L251.4 277.5L251.7 277.2L251.9 276.9L252.2 276.6L252.4 276.3L252.7 275.9L252.9 275.6L253.2 275.3L253.4 274.9L253.7 274.6L253.9 274.3L254.2 274.0L254.4 273.6L254.7 273.3L254.9 273.0L255.2 272.7L255.3 272.5M257.5 269.8L257.8 269.5L258.0 269.2L258.3 268.9L258.5 268.6L258.8 268.3L259.0 268.0L259.3 267.7L259.5 267.4L259.8 267.1L260.0 266.8L260.3 266.5L260.5 266.2L260.8 265.9L261.0 265.6L261.3 265.3L261.5 265.0L261.8 264.8L262.0 264.5L262.3 264.2L262.5 263.9L262.7 263.7M265.0 261.0L265.2 260.8L265.4 260.5L265.7 260.2L265.9 259.9L266.2 259.6L266.4 259.4L266.7 259.1L266.9 258.8L267.2 258.6L267.4 258.3L267.7 258.1L267.9 257.9L268.2 257.6L268.4 257.4L268.7 257.1L268.9 256.9L269.2 256.6L269.4 256.4L269.7 256.2L269.9 255.9L270.2 255.7L270.4 255.4L270.5 255.3M273.0 252.9L273.2 252.7L273.4 252.5L273.7 252.2L273.9 252.0L274.2 251.7L274.4 251.5L274.7 251.2L274.9 251.0L275.2 250.7L275.4 250.5L275.7 250.3L275.9 250.0L276.2 249.8L276.4 249.5L276.7 249.3L276.9 249.0L277.2 248.8L277.4 248.6L277.7 248.3L277.9 248.1L278.2 247.8L278.4 247.6L278.7 247.4L278.7 247.3M281.2 244.9L281.4 244.7L281.7 244.4L281.9 244.2L282.2 243.9L282.4 243.7L282.7 243.4L282.9 243.2L283.2 242.9L283.4 242.7L283.7 242.4L283.9 242.1L284.2 241.9L284.4 241.6L284.7 241.4L284.9 241.1L285.2 240.9L285.4 240.6L285.7 240.3L285.9 240.1L286.2 239.8L286.4 239.6L286.7 239.3L286.8 239.2M289.2 236.7L289.4 236.4L289.7 236.2L289.9 235.9L290.2 235.7L290.4 235.4L290.7 235.1L290.9 234.9L291.2 234.6L291.4 234.3L291.7 234.1L291.9 233.8L292.2 233.6L292.4 233.3L292.7 233.0L292.9 232.8L293.2 232.5L293.4 232.3L293.7 232.0L293.9 231.7L294.2 231.5L294.4 231.2L294.7 231.0L294.7 231.0M297.2 228.5L297.4 228.3L297.6 228.0L297.9 227.8L298.1 227.5L298.4 227.3L298.6 227.0L298.9 226.8L299.1 226.5L299.4 226.2L299.6 226.0L299.9 225.7L300.1 225.5L300.4 225.2L300.6 224.9L300.9 224.6L301.1 224.4L301.4 224.1L301.6 223.8L301.9 223.5L302.1 223.2L302.4 222.9L302.6 222.7M304.9 220.0L305.1 219.7L305.4 219.4L305.6 219.1L305.9 218.8L306.1 218.5L306.4 218.2L306.6 217.9L306.9 217.6L307.1 217.3L307.4 217.0L307.6 216.7L307.9 216.4L308.1 216.1L308.4 215.8L308.6 215.5L308.9 215.2L309.1 214.9L309.4 214.6L309.6 214.3L309.9 213.9L309.9 213.9M312.1 211.2L312.4 210.9L312.6 210.6L312.9 210.3L313.1 210.0L313.4 209.7L313.6 209.4L313.9 209.1L314.1 208.8L314.4 208.5L314.6 208.2L314.9 207.9L315.1 207.6L315.4 207.3L315.6 207.0L315.9 206.7L316.1 206.4L316.4 206.1L316.6 205.8L316.9 205.5L317.1 205.2L317.2 205.0M319.5 202.4L319.7 202.2L319.9 201.9L320.2 201.6L320.4 201.4L320.7 201.1L320.9 200.8L321.2 200.6L321.4 200.4L321.7 200.1L321.9 199.9L322.2 199.6L322.4 199.4L322.7 199.2L322.9 198.9L323.2 198.7L323.4 198.4L323.7 198.2L323.9 198.0L324.2 197.7L324.4 197.5L324.7 197.2L324.9 197.0L325.1 196.8M327.7 194.4L327.9 194.2L328.1 194.0L328.4 193.7L328.6 193.5L328.9 193.3L329.1 193.1L329.4 192.8L329.6 192.6L329.9 192.4L330.1 192.1L330.4 191.9L330.6 191.7L330.9 191.4L331.1 191.2L331.4 190.9L331.6 190.7L331.9 190.4L332.1 190.2L332.4 189.9L332.6 189.7L332.9 189.4L333.1 189.2L333.4 188.9L333.4 188.9M335.8 186.3L336.0 186.1L336.3 185.8L336.5 185.5L336.8 185.3L337.0 185.0L337.3 184.7L337.5 184.4L337.8 184.2L338.0 183.9L338.3 183.6L338.5 183.3L338.8 183.1L339.0 182.8L339.3 182.5L339.5 182.3L339.8 182.0L340.0 181.8L340.3 181.5L340.5 181.2L340.8 181.0L341.0 180.7L341.2 180.5M343.7 178.1L343.9 177.9L344.2 177.6L344.4 177.4L344.7 177.1L344.9 176.9L345.2 176.7L345.4 176.4L345.7 176.2L345.9 175.9L346.2 175.7L346.4 175.5L346.7 175.2L346.9 175.0L347.2 174.7L347.4 174.5L347.7 174.3L347.9 174.0L348.2 173.8L348.4 173.6L348.7 173.3L348.9 173.1L349.2 172.9L349.4 172.6L349.5 172.6M352.0 170.2L352.3 170.0L352.5 169.7L352.8 169.5L353.0 169.3L353.3 169.0L353.5 168.8L353.8 168.5L354.0 168.2L354.3 168.0L354.5 167.7L354.8 167.5L355.0 167.2L355.3 166.9L355.5 166.7L355.8 166.4L356.0 166.2L356.3 165.9L356.5 165.6L356.8 165.3L357.0 165.1L357.3 164.8L357.5 164.5L357.6 164.5M359.9 161.8L360.1 161.6L360.4 161.3L360.6 161.0L360.9 160.7L361.1 160.3L361.4 160.0L361.6 159.7L361.9 159.4L362.1 159.1L362.4 158.8L362.6 158.5L362.9 158.1L363.1 157.8L363.4 157.5L363.6 157.2L363.9 156.9L364.1 156.5L364.4 156.2L364.6 155.9L364.8 155.6M366.9 152.8L367.1 152.4L367.4 152.1L367.6 151.7L367.9 151.3L368.1 151.0L368.4 150.6L368.6 150.2L368.9 149.9L369.1 149.5L369.4 149.1L369.6 148.8L369.9 148.4L370.1 148.1L370.4 147.7L370.6 147.3L370.9 147.0L371.1 146.6L371.4 146.3L371.4 146.2M373.2 143.3L373.4 142.9L373.7 142.3L374.0 141.8L374.2 141.3L374.4 140.9L374.6 140.6" stroke="#f00"/>
<path d="M245.1 281.0L245.4 280.6L245.6 280.0L246.0 279.4L246.3 278.7L246.7 278.0L247.0 277.3L247.4 276.6L247.7 276.0L248.0 275.4L248.3 274.8L248.6 274.2L248.8 273.8M250.5 270.6L250.7 270.2L251.0 269.7L251.3 269.2L251.6 268.6L251.9 268.2M253.7 265.2L253.9 264.8L254.2 264.3L254.5 263.8L254.8 263.3L255.1 262.8L255.4 262.3L255.7 261.9L256.0 261.4L256.4 260.9L256.7 260.4L257.0 260.0L257.3 259.5L257.6 259.1L257.9 258.6L258.1 258.4M260.1 255.5L260.4 255.1L260.7 254.7L261.0 254.3L261.3 253.9L261.6 253.4L261.8 253.2M263.9 250.4L264.2 250.0L264.5 249.6L264.8 249.2L265.1 248.8L265.4 248.5L265.7 248.2L266.1 247.8L266.4 247.5L266.7 247.2L267.0 246.9L267.3 246.6L267.6 246.2L267.9 245.9L268.2 245.6L268.5 245.3L268.8 245.0L269.1 244.7L269.4 244.4M271.8 241.9L272.1 241.6L272.5 241.3L272.8 241.0L273.1 240.7L273.4 240.4L273.7 240.2L273.9 240.0M276.6 237.7L276.9 237.4L277.2 237.2L277.5 236.9L277.8 236.6L278.1 236.4L278.4 236.1L278.7 235.8L279.1 235.6L279.4 235.3L279.7 235.0L280.0 234.8L280.3 234.5L280.6 234.2L280.9 234.0L281.2 233.7L281.5 233.4L281.8 233.1L282.2 232.9L282.5 232.6L282.7 232.4M285.4 230.0L285.6 229.8L285.9 229.5L286.2 229.3L286.5 229.0L286.8 228.7L287.1 228.5L287.4 228.2L287.5 228.1M290.2 225.9L290.5 225.7L290.8 225.4L291.1 225.2L291.4 225.0L291.8 224.8L292.1 224.6L292.4 224.4L292.7 224.2L293.0 224.0L293.3 223.8L293.6 223.6L293.9 223.5L294.2 223.3L294.5 223.1L294.8 222.9L295.2 222.8L295.5 222.6L295.8 222.4L296.1 222.2L296.4 222.0L296.7 221.9L297.0 221.7L297.1 221.6M300.1 219.7L300.3 219.5L300.6 219.3L300.9 219.1L301.2 218.9L301.6 218.7L301.9 218.5L302.2 218.3L302.4 218.2M305.5 216.5L305.8 216.4L306.1 216.2L306.4 216.1L306.7 215.9L307.0 215.8L307.3 215.6L307.6 215.4L308.0 215.3L308.3 215.1L308.6 215.0L308.9 214.8L309.2 214.6L309.5 214.4L309.8 214.2L310.1 214.0L310.4 213.8L310.7 213.6L311.1 213.4L311.4 213.2L311.7 212.9L312.0 212.7L312.3 212.5L312.5 212.4M315.5 210.5L315.8 210.3L316.1 210.2L316.4 210.0L316.7 209.8L317.0 209.6L317.3 209.3L317.7 209.1L317.9 209.0M320.8 207.0L321.1 206.8L321.4 206.6L321.7 206.4L322.0 206.2L322.3 206.0L322.6 205.8L322.9 205.5L323.2 205.3L323.5 205.1L323.8 204.9L324.2 204.7L324.5 204.5L324.8 204.3L325.1 204.0L325.4 203.8L325.7 203.6L326.0 203.4L326.3 203.2L326.6 203.0L326.9 202.8L327.3 202.6L327.5 202.4M330.4 200.5L330.7 200.3L331.0 200.1L331.3 199.9L331.6 199.7L331.9 199.4L332.2 199.2L332.5 199.0L332.7 198.8M335.4 196.6L335.7 196.4L336.0 196.1L336.3 195.9L336.6 195.6L337.0 195.4L337.3 195.1L337.6 194.9L337.9 194.6L338.2 194.4L338.5 194.1L338.8 193.9L339.1 193.6L339.4 193.4L339.7 193.2L340.1 193.0L340.4 192.7L340.7 192.5L341.0 192.3L341.3 192.1L341.6 191.8L341.8 191.6M344.4 189.2L344.7 189.0L345.0 188.7L345.3 188.4L345.6 188.1L345.9 187.9L346.2 187.6L346.5 187.3M349.1 185.0L349.4 184.7L349.8 184.4L350.1 184.0L350.4 183.7L350.7 183.4L351.0 183.1L351.3 182.8L351.6 182.4L351.9 182.1L352.2 181.8L352.5 181.5L352.8 181.2L353.2 180.9L353.5 180.6L353.8 180.2L354.1 179.9L354.4 179.5L354.7 179.1L354.7 179.1M356.8 176.2L357.1 175.9L357.4 175.5L357.7 175.0L358.0 174.6L358.3 174.2L358.5 174.0M360.7 171.2L360.9 170.9L361.2 170.5L361.5 170.0L361.8 169.6L362.1 169.2L362.4 168.8L362.8 168.3L363.1 167.9L363.4 167.4L363.7 167.0L364.0 166.5L364.3 166.1L364.6 165.6L364.9 165.1L365.2 164.6L365.3 164.5M367.1 161.5L367.4 161.1L367.7 160.6L368.0 160.1L368.3 159.6L368.6 159.1L368.6 159.1M370.5 156.2L370.8 155.7L371.1 155.3L371.4 154.8L371.8 154.2L372.1 153.7L372.5 153.1L372.8 152.5L373.2 152.0L373.4 151.6L373.7 151.2L373.8 151.0" stroke="#000"/>
<path d="M245.00 281.30 C245.58 280.45 247.07 278.08 248.50 276.20 C249.93 274.32 251.92 271.92 253.60 270.00 C255.28 268.08 256.92 266.40 258.60 264.70 C260.28 263.00 262.02 261.42 263.70 259.80 C265.38 258.18 267.25 256.38 268.70 255.00 C270.15 253.62 270.15 253.67 272.40 251.50 C274.65 249.33 278.87 245.33 282.20 242.00 C285.53 238.67 289.23 234.70 292.40 231.50 C295.57 228.30 298.05 225.97 301.20 222.80 C304.35 219.63 308.17 215.53 311.30 212.50 C314.43 209.47 316.85 207.52 320.00 204.60 C323.15 201.68 326.82 198.43 330.20 195.00 C333.58 191.57 337.23 187.18 340.30 184.00 C343.37 180.82 346.12 178.27 348.60 175.90 C351.08 173.53 353.27 171.67 355.20 169.80 C357.13 167.93 358.52 166.47 360.20 164.70 C361.88 162.93 363.62 161.13 365.30 159.20 C366.98 157.27 368.88 154.78 370.30 153.10 C371.72 151.42 373.22 149.77 373.80 149.10" stroke="#00f"/>
</g>
<g>
<use href="#t" x="252.75" y="242.70"/>
<use href="#t" x="261.75" y="230.95"/>
<use href="#t" x="270.25" y="228.95"/>
<use href="#t" x="278.70" y="223.45"/>
<use href="#t" x="287.25" y="222.20"/>
<use href="#t" x="296.00" y="217.70"/>
<use href="#t" x="304.75" y="215.50"/>
<use href="#t" x="313.40" y="215.00"/>
<use href="#t" x="321.50" y="212.70"/>
<use href="#t" x="330.25" y="208.95"/>
<use href="#t" x="339.00" y="207.70"/>
<use href="#t" x="347.75" y="202.70"/>
<use href="#t" x="356.50" y="199.70"/>
<use href="#t" x="365.25" y="188.20"/>
</g>
<text class="s" font-size="16.0" text-anchor="end" transform="translate(42.30 21.62) scale(1.000 1.070)">0.2</text>
<text class="s" font-size="16.0" text-anchor="end" transform="translate(42.30 50.06) scale(1.000 1.070)">0.1</text>
<text class="s" font-size="16.0" text-anchor="end" transform="translate(42.30 78.50) scale(1.000 1.070)">0</text>
<text class="s" font-size="16.0" text-anchor="end" transform="translate(42.30 106.94) scale(1.000 1.070)">-0.1</text>
<text class="s" font-size="16.0" text-anchor="end" transform="translate(42.30 135.38) scale(1.000 1.070)">-0.2</text>
<text class="s" font-size="16.0" text-anchor="end" transform="translate(42.30 164.12) scale(1.000 1.070)">0.2</text>
<text class="s" font-size="16.0" text-anchor="end" transform="translate(42.30 192.56) scale(1.000 1.070)">0.1</text>
<text class="s" font-size="16.0" text-anchor="end" transform="translate(42.30 221.00) scale(1.000 1.070)">0</text>
<text class="s" font-size="16.0" text-anchor="end" transform="translate(42.30 249.44) scale(1.000 1.070)">-0.1</text>
<text class="s" font-size="16.0" text-anchor="end" transform="translate(42.30 277.88) scale(1.000 1.070)">-0.2</text>
<text class="s" font-size="16.0" text-anchor="middle" transform="translate(74.83 303.80) scale(1.000 1.110)">-1</text>
<text class="s" font-size="16.0" text-anchor="middle" transform="translate(133.40 303.80) scale(1.000 1.110)">0</text>
<text class="s" font-size="16.0" text-anchor="middle" transform="translate(191.97 303.80) scale(1.000 1.110)">1</text>
<text class="s" font-size="16.0" text-anchor="middle" transform="translate(250.73 303.80) scale(1.000 1.110)">-1</text>
<text class="s" font-size="16.0" text-anchor="middle" transform="translate(309.30 303.80) scale(1.000 1.110)">0</text>
<text class="s" font-size="16.0" text-anchor="middle" transform="translate(367.87 303.80) scale(1.000 1.110)">1</text>
<text class="s" font-size="17.5" text-anchor="middle" transform="translate(133.80 322.00) scale(1.000 1.000)">y</text>
<text class="s" font-size="17.5" text-anchor="middle" transform="translate(309.70 322.00) scale(1.000 1.000)">y</text>
<text class="s" font-size="19.5" transform="translate(10.4 80.3) rotate(-90)">v<tspan font-size="11.5" dy="3.5" dx="-0.8">1</tspan></text>
<text class="s" font-size="19.5" transform="translate(10.4 222.6) rotate(-90)">v<tspan font-size="11.5" dy="3.5" dx="-0.8">1</tspan></text>
<text font-size="14.8" text-anchor="start" transform="translate(51.80 20.60) scale(1.000 1.100)">2.7 GeV</text>
<text font-size="14.8" text-anchor="start" transform="translate(227.40 21.50) scale(1.000 1.100)">3.3 GeV</text>
<text font-size="14.8" text-anchor="start" transform="translate(51.80 165.00) scale(1.000 1.100)">3.8 GeV</text>
<text font-size="14.8" text-anchor="start" transform="translate(233.00 164.80) scale(1.000 1.100)">4.3 GeV</text>
<text font-size="14" text-anchor="start" transform="translate(152.20 106.00) scale(1.000 1.050)">protons</text>
<text font-size="14" text-anchor="start" transform="translate(171.00 121.30) scale(1.000 1.050)">E895</text>
<use href="#t" x="160" y="116.4"/>
<g fill="none" stroke-width="2.5">
<path d="M300.8 100H321.3" stroke="#00f"/>
<path d="M300.8 115.4H321.3" stroke="#000" stroke-dasharray="8 3.4 2.6 3.4"/>
<path d="M300.8 131.3H321.3" stroke="#f00" stroke-dasharray="8 3.6"/>
</g>
<text font-size="12.6" text-anchor="start" transform="translate(327.00 104.50) scale(1.000 1.050)">hadronic</text>
<text font-size="12.6" text-anchor="start" transform="translate(327.00 120.20) scale(1.000 1.050)">crossover</text>
<text font-size="12.6" text-anchor="start" transform="translate(327.00 135.40) scale(1.000 1.050)">1st order tr.</text>
</svg></body></html>
